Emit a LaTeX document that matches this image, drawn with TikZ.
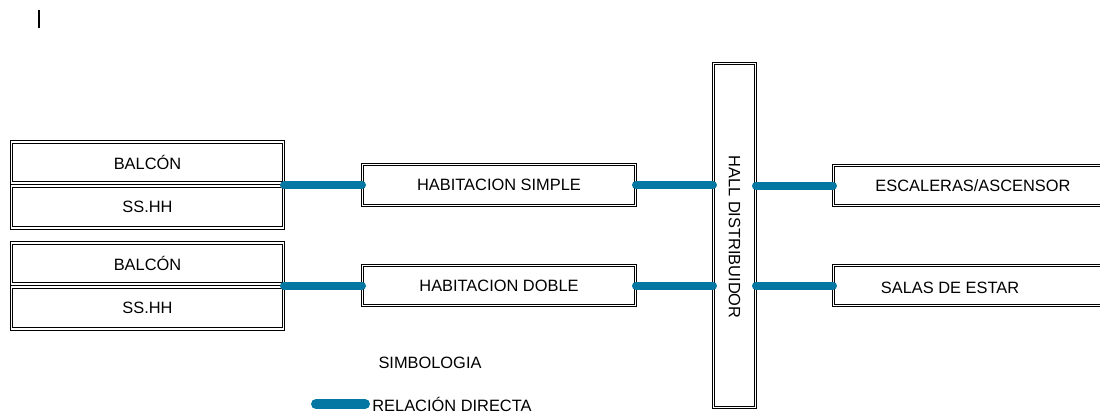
\documentclass[tikz,border=0pt]{standalone}
\usepackage{fontspec}
\setmainfont{Liberation Sans}
\definecolor{relblue}{RGB}{4,120,163}
\begin{document}
\begin{tikzpicture}[x=0.5pt,y=-0.5pt,
    room/.style={draw=black,double=white,double distance=0.8pt,line width=0.5pt,inner sep=0pt,
      font=\fontsize{8.2}{9}\selectfont},
    rel/.style={draw=relblue,line width=4pt,line cap=round},
    txt/.style={font=\fontsize{8.2}{9}\selectfont,inner sep=1pt}]
    \useasboundingbox (0,0) rectangle (1100,412);
    \draw[line width=1pt] (39,10) -- (39,28);
    % zonas privadas
    \node[room,minimum width=136pt,minimum height=20.5pt] (bal1) at (147.5,162.5) {BALC\'ON};
    \node[room,minimum width=136pt,minimum height=21pt] (ss1) at (147.5,207) {SS.HH};
    \node[room,minimum width=136pt,minimum height=20.5pt] (bal2) at (147.5,263.5) {BALC\'ON};
    \node[room,minimum width=136pt,minimum height=21pt] (ss2) at (147.5,308) {SS.HH};
    \node[room,minimum width=136.5pt,minimum height=20.5pt] (hsim) at (499,185) {HABITACION SIMPLE};
    \node[room,minimum width=136.5pt,minimum height=20pt] (hdob) at (499,285.5) {HABITACION DOBLE};
    % hall
    \node[room,minimum width=21pt,minimum height=172pt] (hall) at (734.5,235.5) {};
    \node[txt,rotate=-90] (halltxt) at (734.5,237) {HALL DISTRIBUIDOR};
    % zonas comunes
    \begin{scope}
      \clip (0,0) rectangle (1100,412);
      \node[room,minimum width=139.5pt,minimum height=20pt] (esc) at (973,185.5) {ESCALERAS/ASCENSOR};
      \node[room,minimum width=139.5pt,minimum height=20pt] (sal) at (973,285.5) {};
    \end{scope}
    \node[txt] (saltxt) at (950,288) {SALAS DE ESTAR};
    % relaciones
    \draw[rel] (hsim.west) -- (hsim.west -| bal1.east);
    \draw[rel] (hdob.west) -- (hdob.west -| bal2.east);
    \draw[rel] (hsim.east) -- (hsim.east -| hall.west);
    \draw[rel] (hdob.east) -- (hdob.east -| hall.west);
    \draw[rel] (esc.west -| hall.east) -- (esc.west);
    \draw[rel] (sal.west -| hall.east) -- (sal.west);
    % simbologia
    \node[txt] (simb) at (430,363) {SIMBOLOGIA};
    \node[txt,anchor=west] (reltxt) at (370,404) {RELACI\'ON DIRECTA};
    \coordinate (legstart) at (316,404);
    \draw[rel,line width=5pt] (legstart) -- ([xshift=-2.5pt]reltxt.west);
\end{tikzpicture}
\end{document}
